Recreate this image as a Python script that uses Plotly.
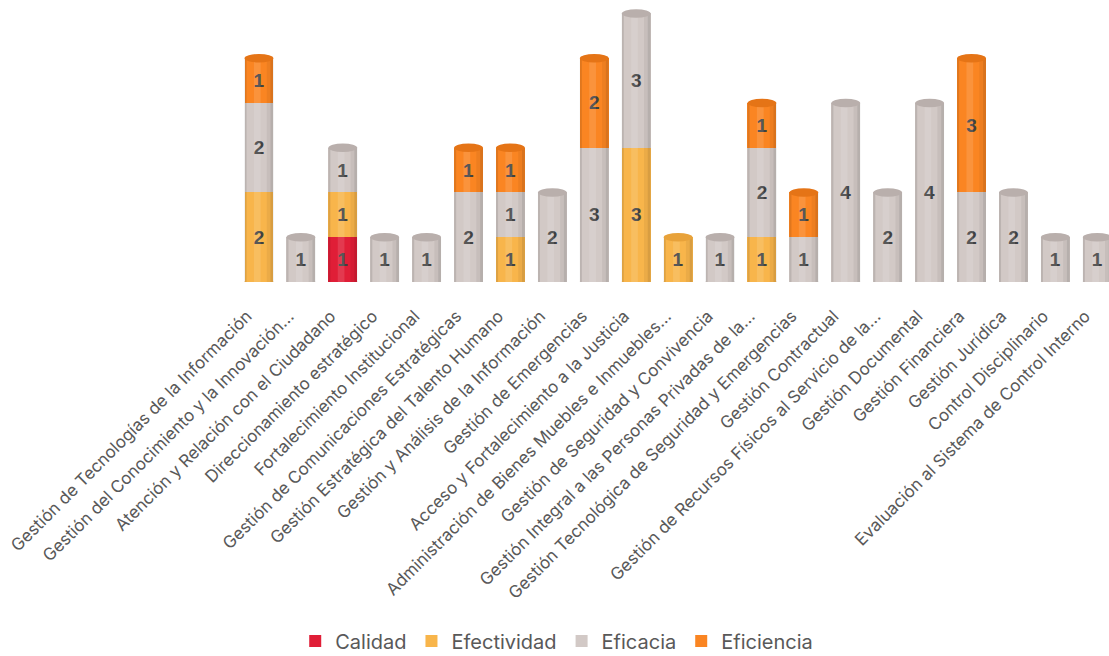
import plotly.graph_objects as go

categories = [
    "Gestión de Tecnologías de la Información",
    "Gestión del Conocimiento y la Innovación...",
    "Atención y Relación con el Ciudadano",
    "Direccionamiento estratégico",
    "Fortalecimiento Institucional",
    "Gestión de Comunicaciones Estratégicas",
    "Gestión Estratégica del Talento Humano",
    "Gestión y Análisis de la Información",
    "Gestión de Emergencias",
    "Acceso y Fortalecimiento a la Justicia",
    "Administración de Bienes Muebles e Inmuebles...",
    "Gestión de Seguridad y Convivencia",
    "Gestión Integral a las Personas Privadas de la...",
    "Gestión Tecnológica de Seguridad y Emergencias",
    "Gestión Contractual",
    "Gestión de Recursos Físicos al Servicio de la...",
    "Gestión Documental",
    "Gestión Financiera",
    "Gestión Jurídica",
    "Control Disciplinario",
    "Evaluación al Sistema de Control Interno",
]
calidad     = [0, 0, 1, 0, 0, 0, 0, 0, 0, 0, 0, 0, 0, 0, 0, 0, 0, 0, 0, 0, 0]
efectividad = [2, 0, 1, 0, 0, 0, 1, 0, 0, 3, 1, 0, 1, 0, 0, 0, 0, 0, 0, 0, 0]
eficacia    = [2, 1, 1, 1, 1, 2, 1, 2, 3, 3, 0, 1, 2, 1, 4, 2, 4, 2, 2, 1, 1]
eficiencia  = [1, 0, 0, 0, 0, 1, 1, 0, 2, 0, 0, 0, 1, 1, 0, 0, 0, 3, 0, 0, 0]

series = [
    ("Calidad", calidad, "#E01E37", "#C01830"),
    ("Efectividad", efectividad, "#F8B54B", "#E8A23A"),
    ("Eficacia", eficacia, "#D2C9C6", "#B9AFAC"),
    ("Eficiencia", eficiencia, "#FA8522", "#E57416"),
]

x = list(range(len(categories)))
W = 0.69
FONT = "Inter, Open Sans, sans-serif"

fig = go.Figure()
for name, vals, col, _ in series:
    fig.add_trace(go.Bar(
        x=x, y=vals, name=name, width=W,
        marker=dict(color=col, line=dict(width=0)),
        text=[str(v) if v else "" for v in vals],
        textposition="inside", insidetextanchor="middle", textangle=0,
        constraintext="none",
        textfont=dict(family="Liberation Sans, Arial", size=19, color="#404040", weight="bold"),
    ))

shapes = []
H = 0.19  # ellipse height in data units
for i in x:
    total = sum(s[1][i] for s in series)
    top_cap = None
    bottom_col = None
    for name, vals, col, dark in series:
        if vals[i]:
            if bottom_col is None:
                bottom_col = col
            top_cap = dark
    strips = [
        (-W / 2, -W / 2 + 0.05, "rgba(0,0,0,0.10)"),
        (-0.12, 0.04, "rgba(255,255,255,0.12)"),
        (W / 2 - 0.16, W / 2 - 0.07, "rgba(0,0,0,0.05)"),
        (W / 2 - 0.07, W / 2, "rgba(0,0,0,0.13)"),
    ]
    for a, b, c in strips:
        shapes.append(dict(type="rect", xref="x", yref="y", x0=i + a, x1=i + b,
                           y0=0, y1=total, fillcolor=c, line=dict(width=0), layer="above"))
    shapes.append(dict(type="circle", xref="x", yref="y", x0=i - W / 2, x1=i + W / 2,
                       y0=-H / 2, y1=H / 2, fillcolor=bottom_col, line=dict(width=0), layer="below"))
    shapes.append(dict(type="circle", xref="x", yref="y", x0=i - W / 2, x1=i + W / 2,
                       y0=total - H / 2, y1=total + H / 2, fillcolor=top_cap,
                       line=dict(width=0), layer="above"))

fig.update_layout(
    width=1109, height=656,
    margin=dict(l=238, r=0, t=0, b=374),
    barmode="stack",
    plot_bgcolor="white", paper_bgcolor="white",
    shapes=shapes,
    showlegend=True,
    legend=dict(orientation="h", xref="container", x=0.502, xanchor="center",
                yref="container", y=0.023, yanchor="middle",
                font=dict(family=FONT, size=20, color="#595959"),
                traceorder="normal", itemwidth=30),
    xaxis=dict(tickvals=x, ticktext=categories, tickangle=-45, range=[-0.5, 20.28],
               showline=False, showgrid=False, zeroline=False, ticks="",
               ticklabelstandoff=20, ticklabelshift=-12,
               tickfont=dict(family=FONT, size=17, color="#595959"),
               automargin=False),
    yaxis=dict(range=[0, 6.3], visible=False, showgrid=False, zeroline=False),
)

fig.write_html("out.html")
